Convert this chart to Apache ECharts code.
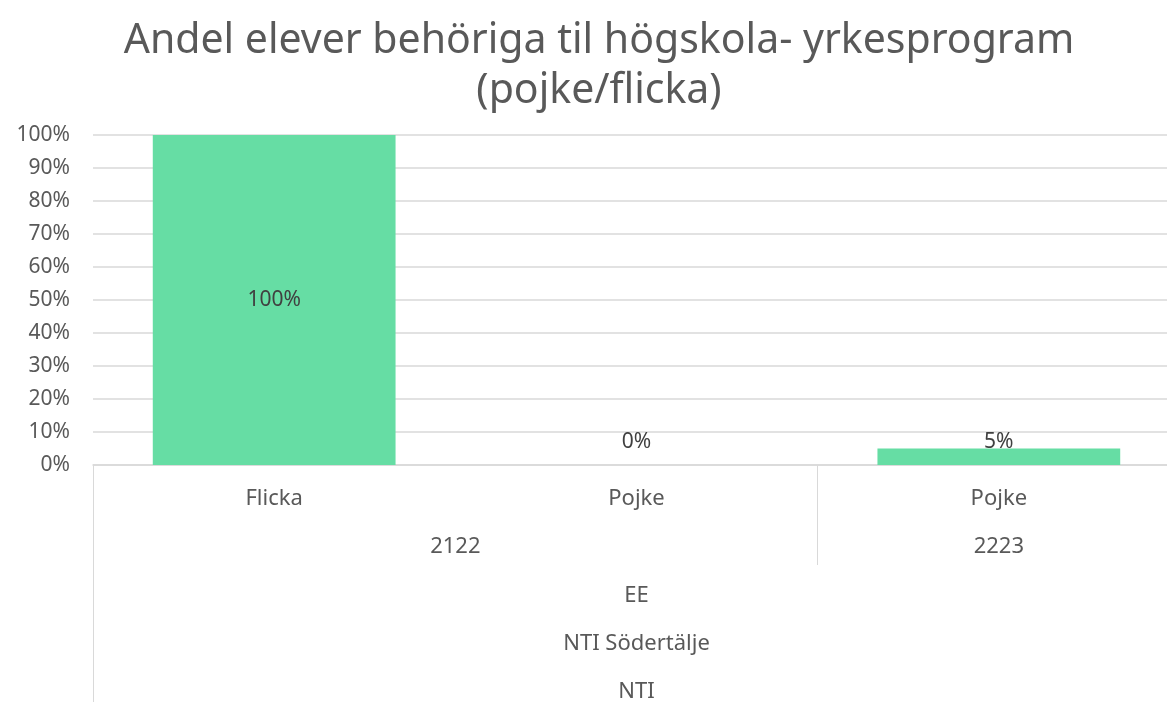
<!DOCTYPE html>
<html>
<head>
<meta charset="utf-8">
<script src="https://cdn.jsdelivr.net/npm/echarts@6/dist/echarts.min.js"></script>
<style>
  html, body { margin: 0; padding: 0; background: #fff; }
  #app { width: 1167px; height: 702px; }
</style>
</head>
<body>
<div id="app"></div>
<script>
// kategorier per nivå (nedersta först)
const genders = ['Flicka', 'Pojke', 'Pojke'];
const years = ['2122', '2223'];
const yearSpan = [2, 1]; // antal staplar per läsår
const program = ['EE'];
const school = ['NTI Södertälje'];
const org = ['NTI'];
// andel behöriga
const shares = [1.0, 0.0, 0.05];
const yTicks = [0, 0.1, 0.2, 0.3, 0.4, 0.5, 0.6, 0.7, 0.8, 0.9, 1.0];

const FONT = '"Noto Sans", sans-serif';
const GREY = '#d9d9d9';
const TXT = '#595959';

// mittpunkter och gränser för läsåren på 0..n-skalan
let acc = 0;
const yearCenters = [];
const yearBounds = [];
yearSpan.forEach((s) => {
  yearCenters.push(acc + s / 2);
  acc += s;
  yearBounds.push(acc);
});
const n = genders.length;

const myChart = echarts.init(document.getElementById('app'));

// hjälpare för en extra nivå-axel (värdeaxel 0..n)
function levelAxis(labelValues, labels, margin, tickValues, tickLen) {
  return {
    type: 'value',
    position: 'bottom',
    min: 0,
    max: n,
    splitLine: { show: false },
    axisLine: { show: false },
    axisTick: {
      show: tickValues.length > 0,
      customValues: tickValues,
      length: tickLen,
      inside: false,
      lineStyle: { color: GREY, width: 1 }
    },
    axisLabel: {
      customValues: labelValues,
      formatter: (v) => {
        const i = labelValues.indexOf(v);
        return i >= 0 ? labels[i] : '';
      },
      margin: margin,
      color: TXT,
      fontFamily: FONT,
      fontSize: 22
    }
  };
}

const option = {
  animation: false,
  title: {
    text: 'Andel elever behöriga til högskola- yrkesprogram\n(pojke/flicka)',
    left: 594,
    top: 11,
    textAlign: 'center',
    textStyle: {
      color: TXT,
      fontFamily: FONT,
      fontWeight: 'normal',
      fontSize: 41,
      lineHeight: 50
    }
  },
  grid: {
    left: 93,
    width: 1087,
    top: 135,
    bottom: 237,
    containLabel: false,
    outerBoundsMode: 'none'
  },
  xAxis: [
    {
      type: 'category',
      data: genders,
      axisLine: { show: true, lineStyle: { color: GREY, width: 1.5 } },
      axisTick: { show: false },
      axisLabel: {
        margin: 23,
        color: TXT,
        fontFamily: FONT,
        fontSize: 22
      }
    },
    levelAxis(yearCenters, years, 71, yearBounds.slice(0, -1), 100),
    levelAxis([n / 2], program, 120, [0], 237),
    levelAxis([n / 2], school, 168, [], 0),
    levelAxis([n / 2], org, 216, [], 0)
  ],
  yAxis: {
    type: 'value',
    min: 0,
    max: 1,
    interval: 0.1,
    axisLine: { show: false },
    axisTick: { show: false },
    splitLine: { lineStyle: { color: GREY, width: 1.5 } },
    axisLabel: {
      formatter: (v) => Math.round(v * 100) + '%',
      margin: 23,
      color: TXT,
      fontFamily: FONT,
      fontSize: 21
    }
  },
  series: [
    {
      type: 'bar',
      xAxisIndex: 0,
      barCategoryGap: '33%',
      itemStyle: { color: '#66dda4' },
      data: shares.map((v) => ({
        value: v,
        label: v >= 0.5 ? { position: 'inside' } : { position: 'insideBottom', distance: 12 }
      })),
      label: {
        show: true,
        formatter: (p) => Math.round(p.value * 100) + '%',
        color: '#404040',
        fontFamily: FONT,
        fontSize: 21
      }
    }
  ]
};

myChart.setOption(option);
</script>
</body>
</html>
